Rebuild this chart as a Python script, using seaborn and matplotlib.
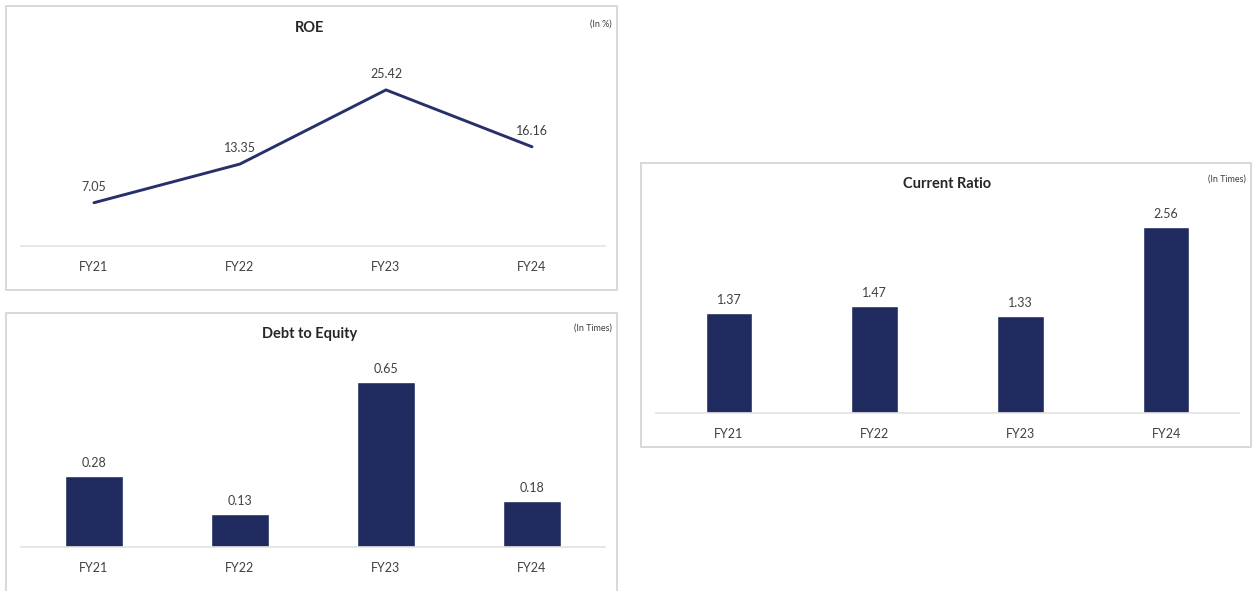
import pandas as pd
import seaborn as sns
from matplotlib import pyplot as plt
from matplotlib.patches import Rectangle

# data
years = ["FY21", "FY22", "FY23", "FY24"]
roe = [7.05, 13.35, 25.42, 16.16]
debt_equity = [0.28, 0.13, 0.65, 0.18]
current_ratio = [1.37, 1.47, 1.33, 2.56]

navy = "#1F2A5E"
line_navy = "#27306B"
grid_grey = "#E3E3E3"
frame_grey = "#D6D6D6"
text_col = "#404040"

sns.set_theme(style="white")
plt.rcParams["font.family"] = ["Lato", "DejaVu Sans"]

W, H = 1253, 591
fig = plt.figure(figsize=(W / 100, H / 100), dpi=100)


def px_axes(left, top, right, bottom):
    # pixel box (from top-left) -> figure axes
    return fig.add_axes([left / W, 1 - bottom / H, (right - left) / W, (bottom - top) / H])


def frame(left, top, right, bottom):
    fig.patches.append(
        Rectangle((left / W, 1 - bottom / H), (right - left) / W, (bottom - top) / H,
                  transform=fig.transFigure, fill=False, edgecolor=frame_grey, lw=1.3)
    )


def style_axes(ax):
    sns.despine(ax=ax, left=True, top=True, right=True)
    ax.spines["bottom"].set_color(grid_grey)
    ax.spines["bottom"].set_linewidth(1.2)
    ax.set_yticks([])
    ax.set_xlabel("")
    ax.set_ylabel("")
    ax.tick_params(axis="x", length=0, pad=11, labelsize=9, labelcolor=text_col)
    ax.set_xlim(-0.5, 3.5)
    ax.patch.set_alpha(0)


# panel frames
frame(6, 6, 617, 290)
frame(6, 313, 617, 600)
frame(641, 163, 1251, 447)

# ROE line chart
ax1 = px_axes(21, 40, 605, 246)
df_roe = pd.DataFrame({"year": years, "roe": roe})
sns.lineplot(data=df_roe, x="year", y="roe", ax=ax1, color=line_navy, linewidth=2.1)
ax1.set_ylim(0, 206 / 6.14)
style_axes(ax1)
for i, v in enumerate(roe):
    ax1.annotate(f"{v:.2f}", (i, v), xytext=(0, 7), textcoords="offset points",
                 ha="center", va="bottom", fontsize=9, color=text_col)
fig.text(310 / W, 1 - 28 / H, "ROE", ha="center", va="center", fontsize=10.5,
         fontweight="bold", color="#262626")
fig.text(612 / W, 1 - 24 / H, "(In %)", ha="right", va="center", fontsize=6.5, color=text_col)

# Debt to Equity bar chart
ax2 = px_axes(21, 360, 605, 547)
df_de = pd.DataFrame({"year": years, "de": debt_equity})
sns.barplot(data=df_de, x="year", y="de", ax=ax2, color=navy, width=0.4, saturation=1)
ax2.set_ylim(0, 187 / 254)
style_axes(ax2)
ax2.bar_label(ax2.containers[0], fmt="%.2f", padding=5, fontsize=9, color=text_col)
fig.text(310 / W, 1 - 334 / H, "Debt to Equity", ha="center", va="center", fontsize=10.5,
         fontweight="bold", color="#262626")
fig.text(612 / W, 1 - 328 / H, "(In Times)", ha="right", va="center", fontsize=6.5, color=text_col)

# Current Ratio bar chart
ax3 = px_axes(656, 200, 1239, 413)
df_cr = pd.DataFrame({"year": years, "cr": current_ratio})
sns.barplot(data=df_cr, x="year", y="cr", ax=ax3, color=navy, width=0.32, saturation=1)
ax3.set_ylim(0, 213 / 72.7)
style_axes(ax3)
ax3.bar_label(ax3.containers[0], fmt="%.2f", padding=5, fontsize=9, color=text_col)
fig.text(947 / W, 1 - 184 / H, "Current Ratio", ha="center", va="center", fontsize=10.5,
         fontweight="bold", color="#262626")
fig.text(1246 / W, 1 - 179 / H, "(In Times)", ha="right", va="center", fontsize=6.5, color=text_col)

fig.savefig("out.png", dpi=100)
